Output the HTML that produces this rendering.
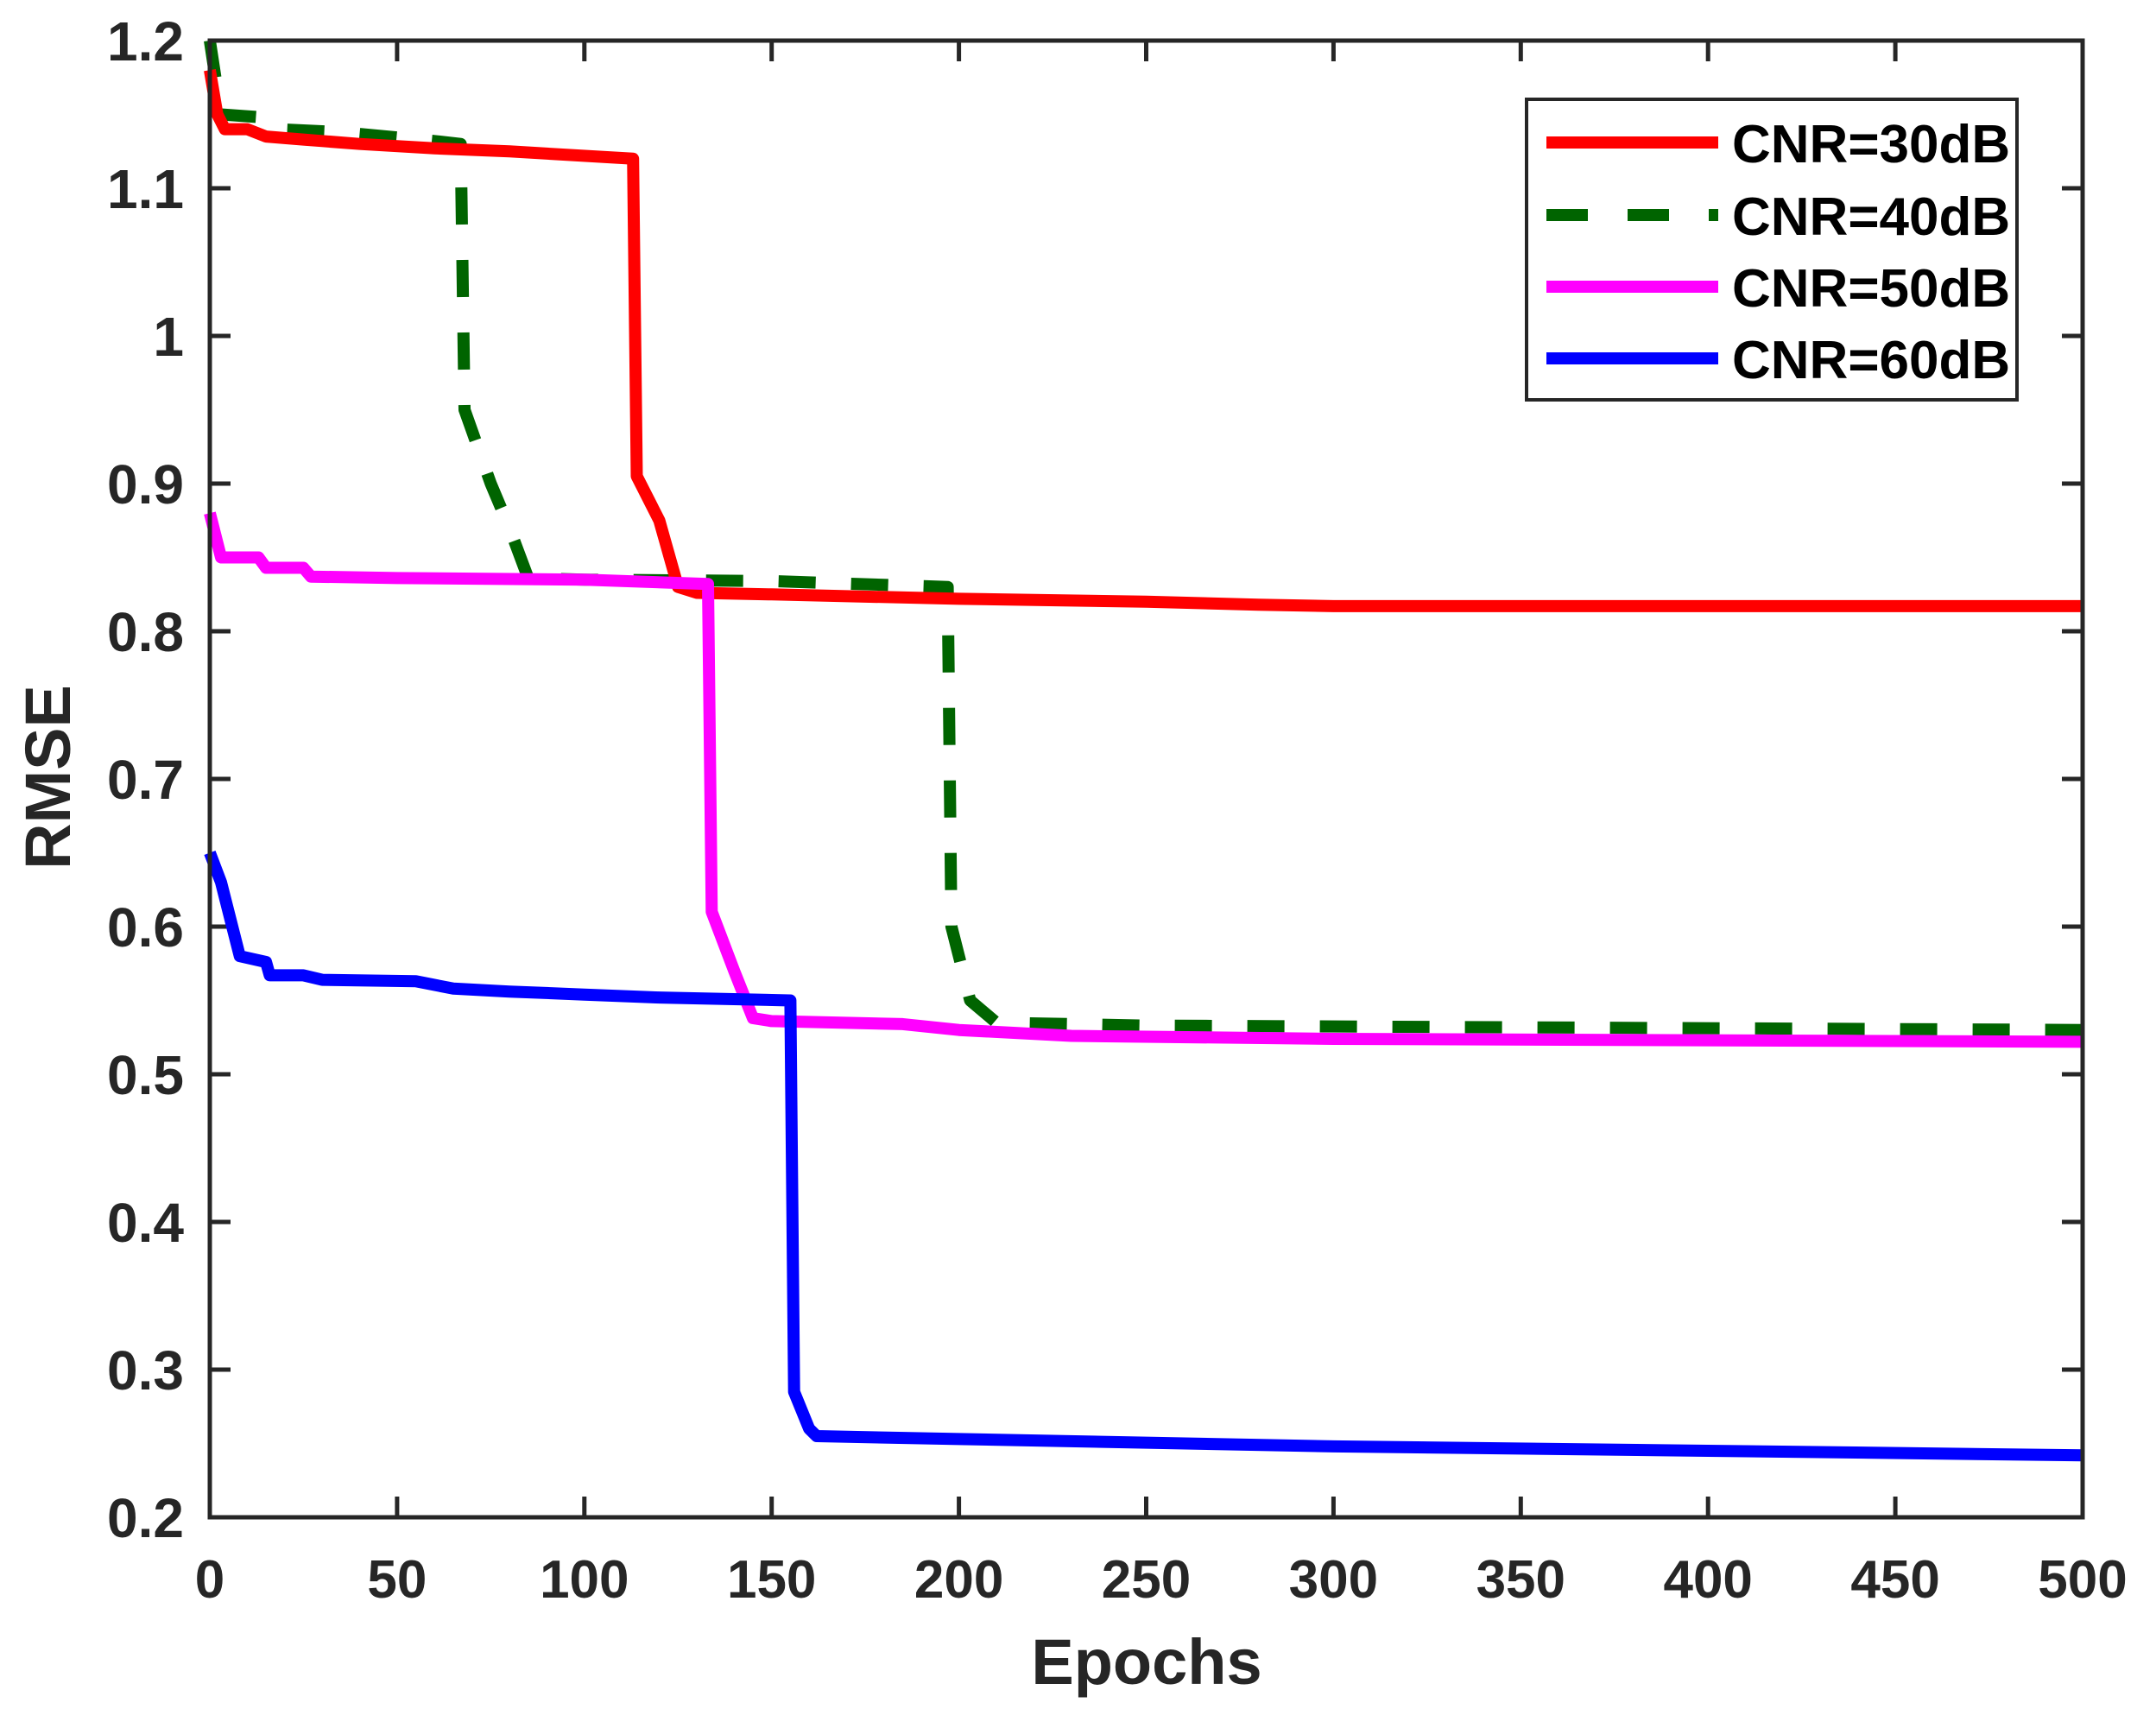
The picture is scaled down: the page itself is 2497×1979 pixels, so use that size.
<!DOCTYPE html>
<html><head><meta charset="utf-8"><style>
html,body{margin:0;padding:0;background:#fff}
svg{display:block}
text{font-family:"Liberation Sans",sans-serif;font-weight:bold;fill:#262626}
</style></head><body>
<svg id="s" width="2497" height="1979" xmlns="http://www.w3.org/2000/svg">
<rect width="2497" height="1979" fill="#fff"/>
<g id="ticks"></g>
<g id="series"></g>
<rect x="243" y="47" width="2169" height="1710" fill="none" stroke="#262626" stroke-width="5"/>
<text x="1328" y="1950" font-size="74" text-anchor="middle">Epochs</text>
<text transform="translate(81,900) rotate(-90)" font-size="74" text-anchor="middle">RMSE</text>
<rect x="1768" y="115" width="568" height="348" fill="#fff" stroke="#262626" stroke-width="4"/>
<line x1="1791" y1="165" x2="1990" y2="165" stroke="#ff0000" stroke-width="14"/>
<line x1="1791" y1="249" x2="1990" y2="249" stroke="#006400" stroke-width="14" stroke-dasharray="48,46"/>
<line x1="1791" y1="332" x2="1990" y2="332" stroke="#ff00ff" stroke-width="14"/>
<line x1="1791" y1="415" x2="1990" y2="415" stroke="#0000ff" stroke-width="14"/>
<text x="2006" y="188" font-size="62" style="fill:#000">CNR=30dB</text>
<text x="2006" y="272" font-size="62" style="fill:#000">CNR=40dB</text>
<text x="2006" y="355" font-size="62" style="fill:#000">CNR=50dB</text>
<text x="2006" y="438" font-size="62" style="fill:#000">CNR=60dB</text>
</svg>
<script>
var L=243,R=2412,T=47,B=1757;
function X(e){return L+e*(R-L)/500}
function Y(v){return B-(v-0.2)*(B-T)/1.0}
var tk=document.getElementById("ticks"),h="";
for(var i=0;i<=10;i++){var e=i*50,x=X(e);
h+='<line x1="'+x+'" y1="'+B+'" x2="'+x+'" y2="'+(B-24)+'" stroke="#262626" stroke-width="5"/>';
h+='<line x1="'+x+'" y1="'+T+'" x2="'+x+'" y2="'+(T+24)+'" stroke="#262626" stroke-width="5"/>';
h+='<text x="'+x+'" y="1850" font-size="62" text-anchor="middle">'+e+'</text>';}
for(var i=0;i<=10;i++){var v=0.2+i*0.1,y=Y(v);
h+='<line x1="'+L+'" y1="'+y+'" x2="'+(L+24)+'" y2="'+y+'" stroke="#262626" stroke-width="5"/>';
h+='<line x1="'+R+'" y1="'+y+'" x2="'+(R-24)+'" y2="'+y+'" stroke="#262626" stroke-width="5"/>';
var s=(Math.abs(v-1)<1e-9)?"1":v.toFixed(1);
h+='<text x="213" y="'+(y+23)+'" font-size="64" text-anchor="end">'+s+'</text>';}
tk.innerHTML=h;
var S=[
["#006400","43,41",[[0,1.2],[3,1.15],[14,1.148],[18,1.14],[35,1.138],[60,1.132],[67,1.13],[68,0.95],[75,0.9],[80,0.87],[85,0.836],[100,0.835],[150,0.834],[197,0.83],[198,0.6],[203,0.55],[210,0.535],[250,0.533],[500,0.53]]],
["#ff0000","",[[0,1.18],[2,1.15],[4,1.14],[10,1.14],[15,1.135],[25,1.133],[30,1.132],[40,1.13],[60,1.127],[80,1.125],[113,1.12],[114,0.905],[120,0.875],[125,0.83],[130,0.826],[150,0.825],[200,0.822],[250,0.82],[280,0.818],[300,0.817],[500,0.817]]],
["#ff00ff","",[[0,0.88],[3,0.85],[13,0.85],[15,0.843],[25,0.843],[27,0.837],[50,0.836],[100,0.835],[133,0.832],[134,0.61],[140,0.57],[145,0.538],[150,0.536],[185,0.534],[200,0.53],[230,0.526],[300,0.524],[500,0.522]]],
["#0000ff","",[[0,0.65],[3,0.63],[6,0.6],[8,0.58],[15,0.576],[16,0.567],[25,0.567],[30,0.564],[55,0.563],[65,0.558],[80,0.556],[100,0.554],[120,0.552],[155,0.55],[156,0.285],[160,0.26],[162,0.255],[200,0.253],[300,0.248],[400,0.245],[500,0.242]]]
];
var g="";
S.forEach(function(s){var p=s[2].map(function(q){return X(q[0]).toFixed(1)+","+Y(q[1]).toFixed(1)}).join(" ");
g+='<polyline points="'+p+'" fill="none" stroke="'+s[0]+'" stroke-width="14" stroke-linejoin="round"'+(s[1]?' stroke-dasharray="'+s[1]+'"':'')+'/>';});
document.getElementById("series").innerHTML=g;
</script>
</body></html>
